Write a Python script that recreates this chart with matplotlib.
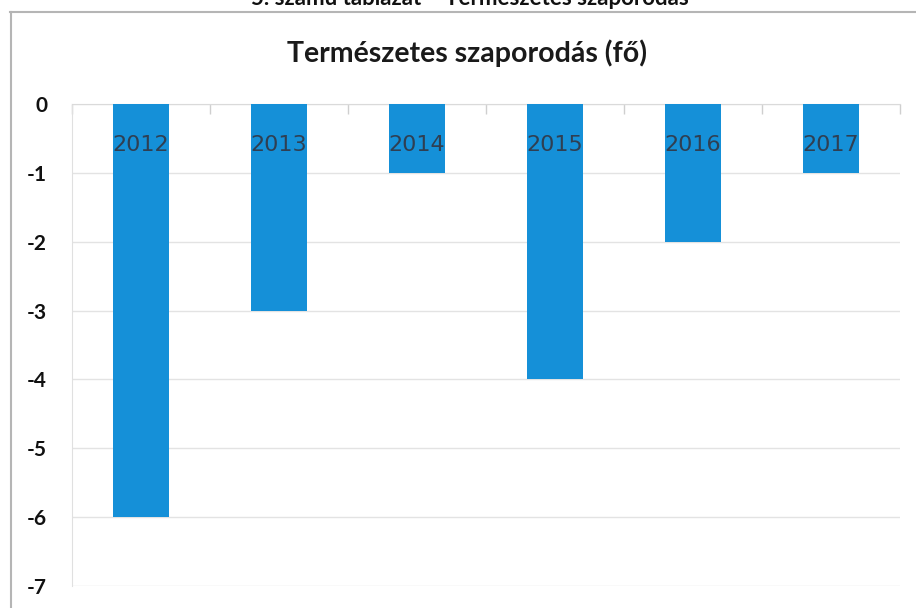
import matplotlib
matplotlib.use("Agg")
import matplotlib.pyplot as plt
from matplotlib.lines import Line2D

years = ["2012", "2013", "2014", "2015", "2016", "2017"]
values = [-6, -3, -1, -4, -2, -1]
yticks = [0, -1, -2, -3, -4, -5, -6, -7]

title = "Természetes szaporodás (fő)"
caption = "5. számú táblázat – Természetes szaporodás"

BAR = "#1590d8"
LABEL = "#2f3f52"
GRID = "#e3e3e3"
FAM = ["Lato", "DejaVu Sans"]

W, H = 916, 608
fig = plt.figure(figsize=(W / 100, H / 100), dpi=100)
fig.patch.set_facecolor("white")

# axes placement in pixels
left, right, top, bottom = 72, 900, 104, 586
ax = fig.add_axes([left / W, 1 - bottom / H, (right - left) / W, (bottom - top) / H])

x = list(range(len(years)))
ax.bar(x, values, width=0.4, color=BAR, zorder=3)

for xi, yr in zip(x, years):
    ax.annotate(yr, (xi, 0), xytext=(0, -29.5), textcoords="offset points",
                ha="center", va="center", fontsize=16, color=LABEL,
                family=["Liberation Sans Narrow", "DejaVu Sans"], zorder=4)

ax.set_xlim(-0.5, len(years) - 0.5)
ax.set_ylim(-7, 0)
ax.set_yticks(yticks)
ax.set_yticklabels([str(v) for v in yticks], fontsize=15, family=FAM,
                   fontweight="bold", color="#111111")
ax.tick_params(axis="y", length=0, pad=18)

# category boundary ticks on the zero line (top)
ax.xaxis.set_ticks_position("top")
ax.set_xticks([i + 0.5 for i in range(-1, len(years))])
ax.set_xticklabels([])
ax.tick_params(axis="x", direction="in", length=7, width=1, color="#cfcfcf")

ax.grid(axis="y", color=GRID, linewidth=1, zorder=0)
for s in ["right", "bottom"]:
    ax.spines[s].set_visible(False)
ax.spines["top"].set_color("#dadada")
ax.spines["left"].set_color("#e0e0e0")

# title
fig.text(467 / W, 1 - 62 / H, title, ha="center", va="baseline",
         fontsize=20.5, fontweight="bold", family=FAM, color="#1a1a1a")

# caption at top of the scanned page (cut by the page edge in the source)
fig.text(470 / W, 1 - 5 / H, caption, ha="center", va="baseline",
         fontsize=16, fontweight="bold", family=FAM, color="#111111")

# chart frame lines (scanned border)
fig.add_artist(Line2D([10 / W, 1], [1 - 12 / H, 1 - 12 / H], color="#b5b5b5", lw=1.5,
                      transform=fig.transFigure))
fig.add_artist(Line2D([11 / W, 11 / W], [0, 1 - 12 / H], color="#b5b5b5", lw=1.5,
                      transform=fig.transFigure))

fig.savefig("out.png", dpi=100)
